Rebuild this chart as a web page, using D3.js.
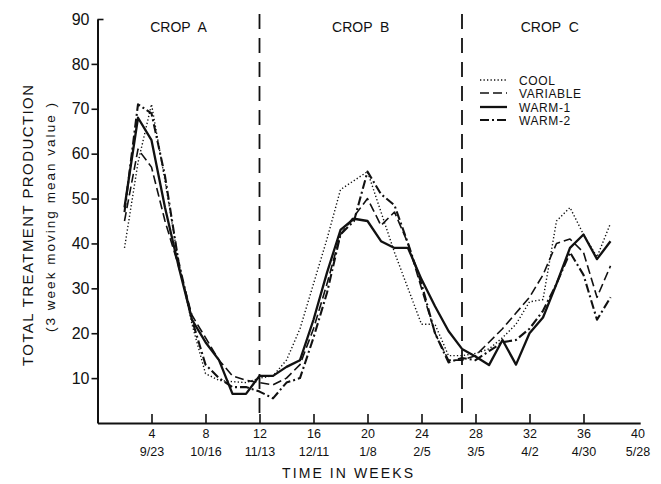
<!DOCTYPE html>
<html>
<head>
<meta charset="utf-8">
<script src="https://cdn.jsdelivr.net/npm/d3@7"></script>
<style>
body{margin:0;background:#fff}
text{font-family:"Liberation Sans",Arial,sans-serif;fill:#111}
</style>
</head>
<body>
<svg id="chart" width="661" height="484"></svg>
<script>
// values (3 week moving mean)
const weeks = [2,3,4,5,6,7,8,9,10,11,12,13,14,15,16,17,18,19,20,21,22,23,24,25,26,27,28,29,30,31,32,33,34,35,36,37,38]
const cool = [39,58,71,54,36,22,11,9.5,9.2,9,10,10.5,14,21,31,41,52,54,56,47,38,30,22,22,15,15,15.5,16.5,19,22,27,27.5,45,48,42,37,44.5]
const variable = [45,61,57,45,35,24,19,14,10.5,9.5,9,8.5,10,13,21,31,42,46,50,44,47,40,30,20,14,14,15,18,21,24.5,28,33,40,41,38,28,35]
const warm1 = [48,68,63,48,35,23,18,14,6.5,6.5,10.5,10.5,12.5,14,23,33.5,43,45.5,45,40.5,39,39,32,26,20.5,16.5,14.8,12.9,18.5,13,20,23.5,31,39,42,36.5,40.5]
const warm2 = [47,71,69,55,36,23,13,10,8,8,7,5.5,9,10,19,29,42,45,56,51,48.5,40,31,20,13.5,14.5,14,16,18,18.5,21,25,31,38,33,23,28]

const seriesNames = ["COOL","VARIABLE","WARM-1","WARM-2"]
const yTicks = [10,20,30,40,50,60,70,80,90]
const xTicks = [4,8,12,16,20,24,28,32,36,40]
const dateLabels = ["9/23","10/16","11/13","12/11","1/8","2/5","3/5","4/2","4/30","5/28"]
const cropNames = ["CROP  A","CROP  B","CROP  C"]
const cropBreaks = [12,27]

const styles = {
    "COOL":     {dash:"1.3,2.2", w:1.4},
    "VARIABLE": {dash:"9,4", w:1.6},
    "WARM-1":   {dash:null, w:2.3},
    "WARM-2":   {dash:"9,3,2,3", w:2.1}
}
const allSeries = [cool, variable, warm1, warm2]

const svg = d3.select("#chart")

const x = d3.scaleLinear().domain([0,40.2]).range([97.5,640.2])
const y = d3.scaleLinear().domain([0,90]).range([423,19])

// y axis
const yAxis = d3.axisLeft(y).tickValues(yTicks).tickSize(6).tickSizeOuter(0).tickPadding(2)
const gy = svg.append("g").attr("transform","translate(97.5,0)").call(yAxis)
gy.select(".domain").attr("stroke","#111").attr("stroke-width",2)
gy.selectAll(".tick line").attr("stroke","#111").attr("stroke-width",1.6)
gy.selectAll(".tick text").style("font-size","16px").attr("fill","#111")
gy.selectAll(".tick").filter(d=>d===90).select("line").attr("x2",6)

// x axis, ticks pointing up into the plot
const xAxis = d3.axisBottom(x).tickValues(xTicks).tickSizeInner(-9).tickSizeOuter(0).tickPadding(6)
const gx = svg.append("g").attr("transform","translate(0,423)").call(xAxis)
gx.select(".domain").attr("stroke","#111").attr("stroke-width",2)
gx.selectAll(".tick line").attr("stroke","#111").attr("stroke-width",1.6)
gx.selectAll(".tick").filter(d=>d===40).select("line").remove()
gx.selectAll(".tick text").style("font-size","12.5px").attr("fill","#111")
gx.selectAll(".tick").append("text")
    .attr("y",24).attr("dy","0.71em")
    .attr("fill","#111").style("font-size","12.5px")
    .text((d,i)=>dateLabels[i])

// crop boundaries
svg.selectAll(".crop-line").data(cropBreaks).join("line")
    .attr("x1",d=>x(d)).attr("x2",d=>x(d))
    .attr("y1",14).attr("y2",422)
    .attr("stroke","#111").attr("stroke-width",1.8)
    .attr("stroke-dasharray","15,9")

const cropCenters = [6,19.5,33.5]
svg.selectAll(".crop-lab").data(cropNames).join("text")
    .attr("x",(d,i)=>x(cropCenters[i])).attr("y",32)
    .attr("text-anchor","middle")
    .style("font-size","14px").style("white-space","pre")
    .text(d=>d)

// series
const line = d3.line().x(d=>x(d[0])).y(d=>y(d[1]))
allSeries.forEach((vals,i)=>{
    const st = styles[seriesNames[i]]
    svg.append("path")
        .datum(weeks.map((w,j)=>[w,vals[j]]))
        .attr("d",line)
        .attr("fill","none")
        .attr("stroke","#111")
        .attr("stroke-width",st.w)
        .attr("stroke-linejoin","round")
        .attr("stroke-dasharray",st.dash)
})

// legend
const lg = svg.append("g").attr("transform","translate(480,80)")
seriesNames.forEach((name,i)=>{
    const st = styles[name]
    const yy = [0,13,27,40][i]
    lg.append("line").attr("x1",0).attr("x2",27).attr("y1",yy).attr("y2",yy)
        .attr("stroke","#111").attr("stroke-width",st.w).attr("stroke-dasharray",st.dash)
    lg.append("text").attr("x",39).attr("y",yy+4.5)
        .style("font-size","12px").style("letter-spacing","0.6px")
        .text(name)
})

// axis titles
svg.append("text").attr("x",282).attr("y",478)
    .attr("textLength",131).attr("lengthAdjust","spacing")
    .style("font-size","14px")
    .text("TIME IN WEEKS")

svg.append("text")
    .attr("transform","translate(33,366) rotate(-90)")
    .attr("textLength",281).attr("lengthAdjust","spacing")
    .style("font-size","15px")
    .text("TOTAL TREATMENT PRODUCTION")

svg.append("text")
    .attr("transform","translate(55,332) rotate(-90)")
    .attr("textLength",229).attr("lengthAdjust","spacing")
    .style("font-size","13.5px")
    .text("(3 week moving mean value )")
</script>
</body>
</html>
